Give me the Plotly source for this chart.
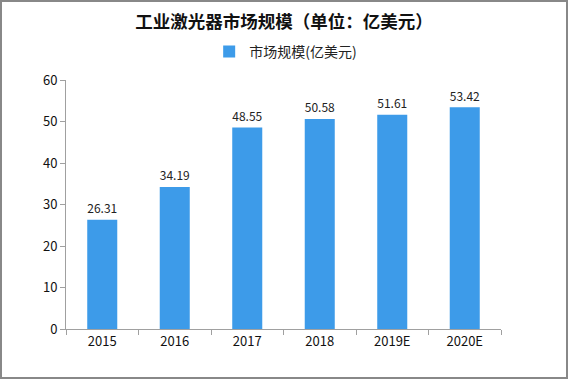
import plotly.graph_objects as go

categories = ["2015", "2016", "2017", "2018", "2019E", "2020E"]
values = [26.31, 34.19, 48.55, 50.58, 51.61, 53.42]
series_name = "市场规模(亿美元)"
title_text = "工业激光器市场规模（单位：亿美元）"

font_family = "Noto Sans CJK SC, DejaVu Sans, sans-serif"

fig = go.Figure()
fig.add_trace(go.Bar(
    x=categories, y=values, name=series_name,
    marker=dict(color="#3d9be9", line=dict(width=0)),
    text=[f"{v:.2f}" for v in values], textposition="outside",
    textfont=dict(size=13, color="#222222", family=font_family),
    cliponaxis=False,
))

fig.update_layout(
    width=568, height=379,
    margin=dict(l=66, r=67, t=80, b=50, autoexpand=False),
    paper_bgcolor="white", plot_bgcolor="white",
    title=dict(text="<b>" + title_text + "</b>", x=0.5, xanchor="center", y=1 - 22 / 379, yanchor="middle",
               font=dict(size=17.5, color="#111111", family=font_family)),
    showlegend=True,
    legend=dict(orientation="h", x=0.505, xanchor="center", y=1 + 28 / 249, yanchor="middle",
                font=dict(size=14, color="#222222", family=font_family),
                bgcolor="rgba(0,0,0,0)", itemwidth=30),
    bargap=0.586,
    font=dict(family=font_family),
    xaxis=dict(showline=True, linecolor="#a0a0a0", linewidth=1,
               ticks="outside", tickson="boundaries", ticklen=5, tickcolor="#a0a0a0",
               tickfont=dict(size=13, color="#111111", family=font_family),
               showgrid=False),
    yaxis=dict(range=[0, 60], dtick=10, showline=True, linecolor="#a0a0a0", linewidth=1,
               ticks="outside", ticklen=5, tickcolor="#a0a0a0",
               tickfont=dict(size=13, color="#111111", family=font_family),
               showgrid=False, zeroline=False),
    shapes=[dict(type="rect", xref="paper", yref="paper", x0=-65/435, x1=1 + 66/435,
                 y0=-49/249, y1=1 + 79/249, line=dict(color="#888888", width=2),
                 fillcolor="rgba(0,0,0,0)", layer="above")],
)

fig.write_html("out.html", config={"displayModeBar": False},
               post_script="document.body.style.margin='0';document.body.style.overflow='hidden';")
